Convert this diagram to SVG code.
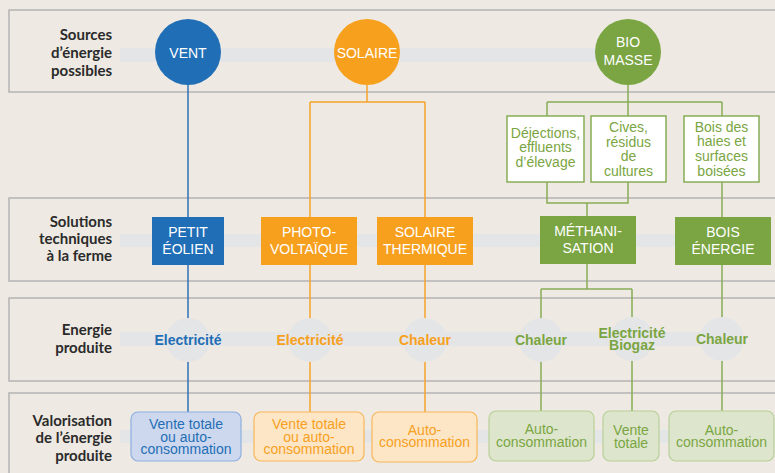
<svg xmlns="http://www.w3.org/2000/svg" width="775" height="473" viewBox="0 0 775 473">
<style>
.band{fill:#EEEAE3;stroke:#B4B4B4;stroke-width:1.5}
.strip{fill:#E4E5E6}
.lbl{font-family:Lato,"Open Sans","DejaVu Sans",sans-serif;font-weight:700;font-size:15px;fill:#2B2B2B;text-anchor:end}
.t{font-family:"Liberation Sans",Arial,sans-serif;font-size:14px;text-anchor:middle}
.w{fill:#FFFFFF}
.b{font-weight:700}
.cb{fill:#1F6EB6}.co{fill:#F7A01E}.cg{fill:#7AA542}
.ln{fill:none;stroke-width:1.5}
.lb{stroke:#2E72B8}.lo{stroke:#F6A22E}.lg{stroke:#86AD55}
.src{fill:#FFFFFF;stroke:#86AD55;stroke-width:1.5}
.ec{fill:#E4E5E6}
.vb{fill:#CDD8EE;stroke:#8EAEDF;stroke-width:1.2}
.vo{fill:#FDE6C6;stroke:#F8B658;stroke-width:1.2}
.vg{fill:#DDE6CD;stroke:#B8CF97;stroke-width:1.2}
</style>
<rect x="0" y="0" width="775" height="473" fill="#EEEAE3"/>
<g id="bands">
<rect class="band" x="9" y="10" width="800" height="82"/>
<rect class="band" x="9" y="198" width="800" height="83"/>
<rect class="band" x="9" y="298" width="800" height="83"/>
<rect class="band" x="9" y="393" width="800" height="120"/>
<rect class="strip" x="120" y="48" width="508" height="14"/>
<rect class="strip" x="120" y="234" width="602" height="13"/>
<rect class="strip" x="120" y="332" width="602" height="14"/>
<rect class="strip" x="120" y="430" width="602" height="13"/>
</g>
<g id="row-labels">
<text class="lbl" x="112" y="40">Sources</text>
<text class="lbl" x="112" y="58">d’énergie</text>
<text class="lbl" x="112" y="76">possibles</text>
<text class="lbl" x="112" y="227">Solutions</text>
<text class="lbl" x="112" y="244">techniques</text>
<text class="lbl" x="112" y="261">à la ferme</text>
<text class="lbl" x="112" y="335">Energie</text>
<text class="lbl" x="112" y="353">produite</text>
<text class="lbl" x="112" y="426">Valorisation</text>
<text class="lbl" x="112" y="443">de l’énergie</text>
<text class="lbl" x="112" y="461">produite</text>
</g>
<g id="connectors">
<path class="ln lb" d="M188 85V412"/>
<path class="ln lo" d="M367 85V102M310 102H425M310 102V412M425 102V412"/>
<path class="ln lg" d="M628 85V102M547 102H722M547 102V116M628 102V116M722 102V116"/>
<path class="ln lg" d="M547 182V203H628V182M587 203V216"/>
<path class="ln lg" d="M587 264V289M541 289H632M541 289V411M632 289V411"/>
<path class="ln lg" d="M722 182V411"/>
</g>
<g id="vent"><circle class="cb" cx="188" cy="52" r="33"/><text class="t w" x="188" y="58">VENT</text></g>
<g id="solaire"><circle class="co" cx="367" cy="52" r="33"/><text class="t w" x="367" y="58">SOLAIRE</text></g>
<g id="biomasse"><circle class="cg" cx="628" cy="52" r="33"/><text class="t w" x="628" y="47">BIO</text><text class="t w" x="628" y="65">MASSE</text></g>
<g id="dejections"><rect class="src" x="507" y="116" width="77" height="66"/>
<text class="t cg" x="545.5" y="138">Déjections,</text><text class="t cg" x="545.5" y="152">effluents</text><text class="t cg" x="545.5" y="167">d’élevage</text></g>
<g id="cives"><rect class="src" x="591" y="116" width="75" height="66"/>
<text class="t cg" x="628.5" y="132">Cives,</text><text class="t cg" x="628.5" y="147">résidus</text><text class="t cg" x="628.5" y="161">de</text><text class="t cg" x="628.5" y="176">cultures</text></g>
<g id="bois-haies"><rect class="src" x="684" y="116" width="75" height="66"/>
<text class="t cg" x="721.5" y="132">Bois des</text><text class="t cg" x="721.5" y="146">haies et</text><text class="t cg" x="721.5" y="161">surfaces</text><text class="t cg" x="721.5" y="176">boisées</text></g>
<g id="petit-eolien"><rect class="cb" x="152" y="217" width="72" height="48"/><text class="t w" x="188" y="237">PETIT</text><text class="t w" x="188" y="254">ÉOLIEN</text></g>
<g id="photovoltaique"><rect class="co" x="261" y="217" width="96" height="48"/><text class="t w" x="309" y="237">PHOTO-</text><text class="t w" x="309" y="254">VOLTAÏQUE</text></g>
<g id="solaire-thermique"><rect class="co" x="377" y="217" width="96" height="48"/><text class="t w" x="425" y="237">SOLAIRE</text><text class="t w" x="425" y="254">THERMIQUE</text></g>
<g id="methanisation"><rect class="cg" x="540" y="216" width="96" height="48"/><text class="t w" x="588" y="236">MÉTHANI-</text><text class="t w" x="588" y="253">SATION</text></g>
<g id="bois-energie"><rect class="cg" x="675" y="217" width="96" height="48"/><text class="t w" x="723" y="237">BOIS</text><text class="t w" x="723" y="254">ÉNERGIE</text></g>
<g id="e-vent"><circle class="ec" cx="188" cy="340" r="22"/><text class="t b cb" x="188" y="345">Electricité</text></g>
<g id="e-pv"><circle class="ec" cx="310" cy="340" r="22"/><text class="t b co" x="310" y="345">Electricité</text></g>
<g id="e-st"><circle class="ec" cx="425" cy="340" r="22"/><text class="t b co" x="425" y="345">Chaleur</text></g>
<g id="e-meth-chaleur"><circle class="ec" cx="541" cy="340" r="22"/><text class="t b cg" x="541" y="345">Chaleur</text></g>
<g id="e-meth-elec"><circle class="ec" cx="632" cy="339" r="22"/><text class="t b cg" x="632" y="338">Electricité</text><text class="t b cg" x="632" y="350">Biogaz</text></g>
<g id="e-bois"><circle class="ec" cx="722" cy="339" r="22"/><text class="t b cg" x="722" y="344">Chaleur</text></g>
<g id="v-vent"><rect class="vb" x="131" y="412" width="110" height="49" rx="7"/>
<text class="t cb" x="186" y="429">Vente totale</text><text class="t cb" x="186" y="442">ou auto-</text><text class="t cb" x="186" y="454">consommation</text></g>
<g id="v-pv"><rect class="vo" x="254" y="412" width="110" height="49" rx="7"/>
<text class="t co" x="309" y="429">Vente totale</text><text class="t co" x="309" y="442">ou auto-</text><text class="t co" x="309" y="454">consommation</text></g>
<g id="v-st"><rect class="vo" x="372" y="412" width="105" height="50" rx="7"/>
<text class="t co" x="424.5" y="435">Auto-</text><text class="t co" x="424.5" y="447">consommation</text></g>
<g id="v-meth-chaleur"><rect class="vg" x="489" y="411" width="105" height="50" rx="7"/>
<text class="t cg" x="541.5" y="434">Auto-</text><text class="t cg" x="541.5" y="447">consommation</text></g>
<g id="v-meth-elec"><rect class="vg" x="603" y="411" width="56" height="50" rx="7"/>
<text class="t cg" x="631" y="435">Vente</text><text class="t cg" x="631" y="448">totale</text></g>
<g id="v-bois"><rect class="vg" x="669" y="411" width="105" height="50" rx="7"/>
<text class="t cg" x="721.5" y="435">Auto-</text><text class="t cg" x="721.5" y="447">consommation</text></g>
</svg>
